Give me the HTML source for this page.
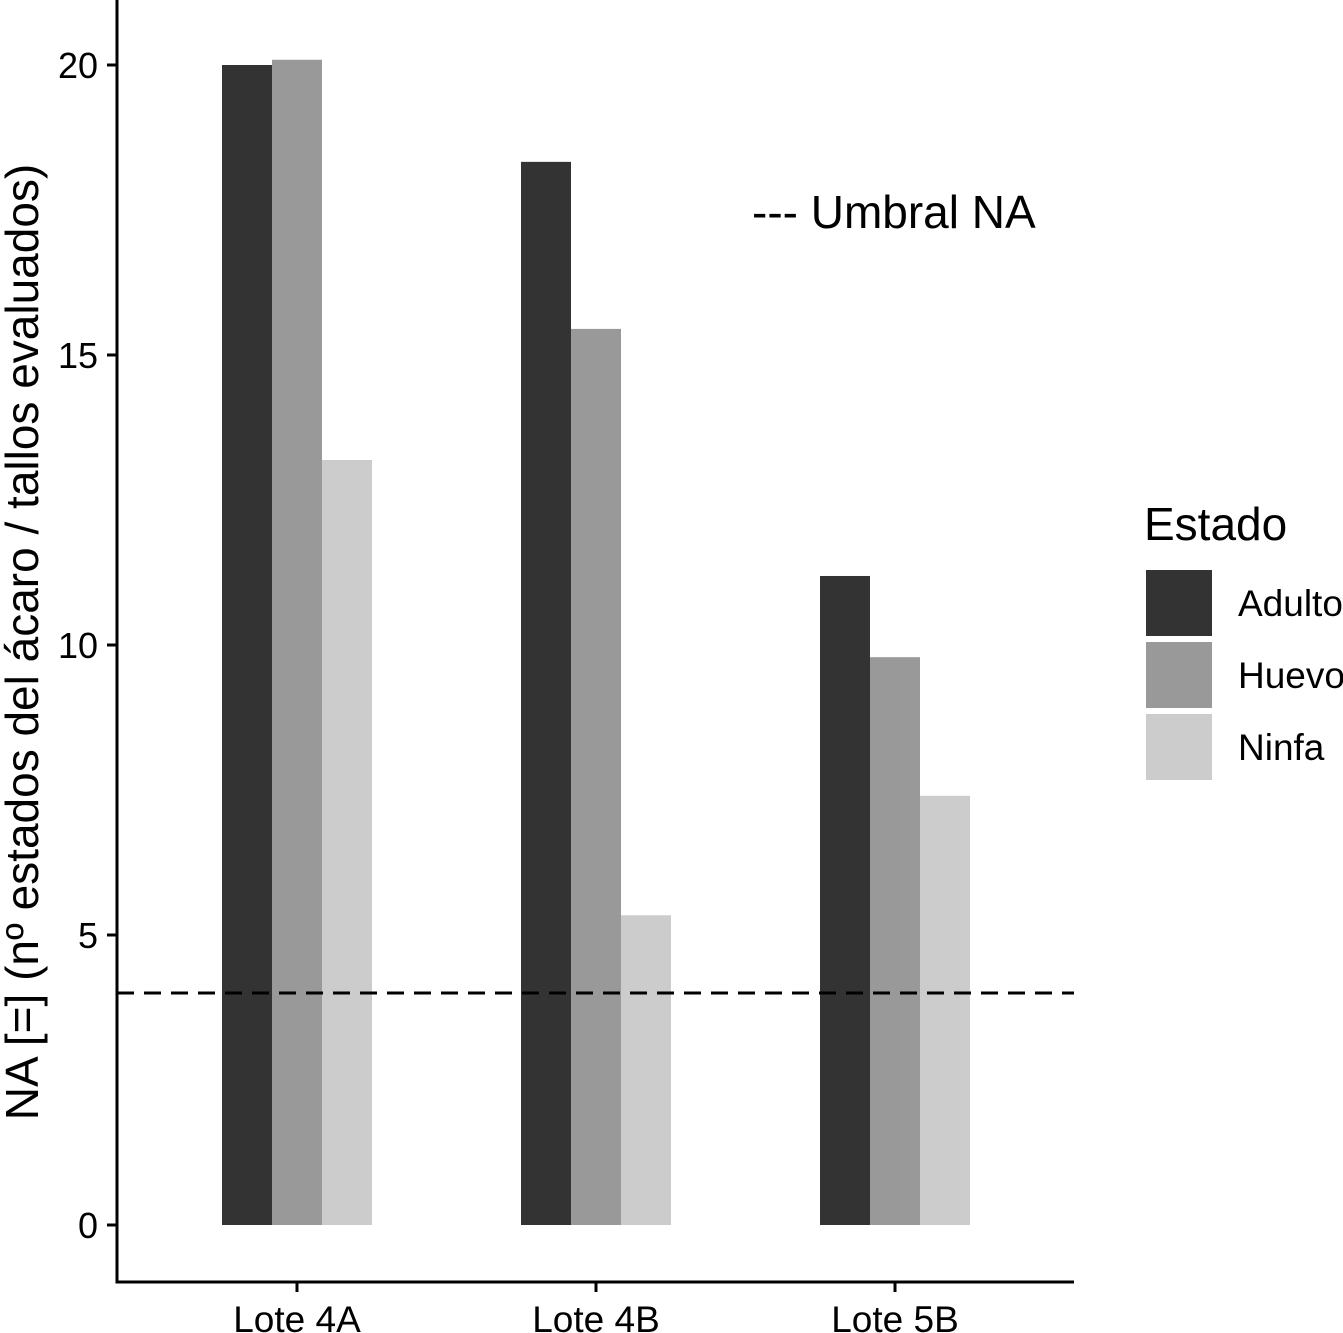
<!DOCTYPE html>
<html><head><meta charset="utf-8"><style>
html,body{margin:0;padding:0;background:#fff;}
svg{display:block;font-family:"Liberation Sans",Arial,sans-serif;}
</style></head><body>
<svg id="chart" width="1343" height="1333" viewBox="0 0 1343 1333">
<g id="bars"></g>
<g id="axes"></g>
<text x="752" y="228" font-size="46" fill="#000">--- Umbral NA</text>
<text transform="translate(38,642) rotate(-90)" text-anchor="middle" font-size="46" fill="#000">NA [=] (nº estados del ácaro / tallos evaluados)</text>
<g id="legend">
<text x="1144" y="540" font-size="46" fill="#000">Estado</text>
</g>
</svg>
<script>
const categories = ["Lote 4A","Lote 4B","Lote 5B"];
const seriesNames = ["Adulto","Huevo","Ninfa"];
const adulto = [20.0, 18.33, 11.19];
const huevo = [20.09, 15.45, 9.79];
const ninfa = [13.19, 5.34, 7.40];
const threshold = [4.0];
const yTicks = [0,5,10,15,20];
const colors = ["#333333","#999999","#cccccc"];
const series = [adulto, huevo, ninfa];

const NS="http://www.w3.org/2000/svg";
const y = v => 1225 - v*58;
const xc = i => 297 + i*299;
const bw = 50;
function mk(tag, attrs, parent){const e=document.createElementNS(NS,tag);for(const k in attrs)e.setAttribute(k,attrs[k]);parent.appendChild(e);return e;}
const bars=document.getElementById('bars'), axes=document.getElementById('axes'), legend=document.getElementById('legend');

categories.forEach((c,i)=>{
  series.forEach((s,j)=>{
    const r=mk('rect',{x:xc(i)-75+j*bw,y:y(s[i]),width:bw,height:y(0)-y(s[i]),fill:colors[j]},bars);
    
    
  });
  const t=mk('line',{x1:xc(i),x2:xc(i),y1:1282,y2:1292,stroke:'#000','stroke-width':3},axes);
  
  
  const l=mk('text',{x:xc(i),y:1332,'text-anchor':'middle','font-size':37,fill:'#000'},axes);
  l.textContent=c;
  
  
});
const th=mk('line',{x1:117,x2:1074,y1:y(threshold[0]),y2:y(threshold[0]),stroke:'#000','stroke-width':3,'stroke-dasharray':'17 10'},axes);


yTicks.forEach(v=>{
  const t=mk('line',{x1:107,x2:117,y1:y(v),y2:y(v),stroke:'#000','stroke-width':3},axes);
  
  
  const l=mk('text',{x:98,y:y(v)+13,'text-anchor':'end','font-size':36,fill:'#000'},axes);
  l.textContent=v;
  
  
});
const ya=mk('line',{x1:117,x2:117,y1:0,y2:1283.5,stroke:'#000','stroke-width':3},axes);


const xa=mk('line',{x1:115.5,x2:1074,y1:1282,y2:1282,stroke:'#000','stroke-width':3},axes);


seriesNames.forEach((n,j)=>{
  const r=mk('rect',{x:1146,y:570+j*72,width:66,height:66,fill:colors[j]},legend);
  
  
  const l=mk('text',{x:1238,y:603+j*72+13,'font-size':37,fill:'#000'},legend);
  l.textContent=n;
  
  
});
</script>
</body></html>
